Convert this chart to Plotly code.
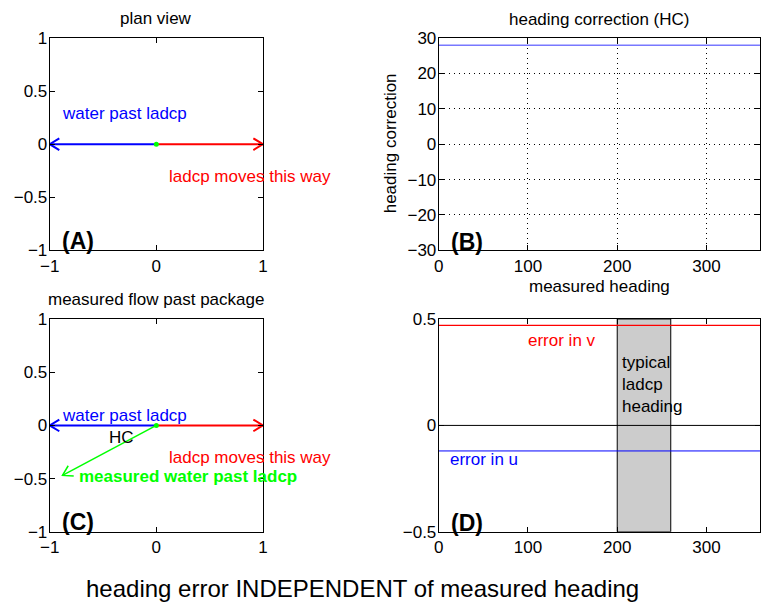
import math
import plotly.graph_objects as go

# plan-view vectors (east, north), unit speed
water_past = (-1.0, 0.0)
ladcp_motion = (1.0, 0.0)
measured_water = (-0.88, -0.47)

# heading correction against measured heading
heading = [0, 360]
heading_correction = [28, 28]

# velocity errors caused by the heading offset
error_u = [-0.12, -0.12]
error_v = [0.47, 0.47]
zero_line = [0, 0]
typical_heading = [200, 260]

FONT = "Liberation Sans, Arial, Helvetica, sans-serif"
BLUE, RED, GREEN = "#0000ff", "#ff0000", "#00ff00"
TXT = 17

# figure size and the page geometry it is laid out for
W, H, PAD = 770, 611, 8
KX, KY = 762 / 778, 603 / 619


def px(x):
    x = x - 1.5
    return min(1.0, max(0.0, (x / KX - PAD) / W))


def py(y):
    y = 37 + (y - 37) * 1.007
    return min(1.0, max(0.0, 1 - (y / KY - PAD) / H))


def quiver(vec, head_len=0.09, head_half=0.055):
    """Shaft from the origin plus an open V head at the tip."""
    dx, dy = vec
    n = math.hypot(dx, dy)
    ux, uy = dx / n, dy / n
    bx, by = dx - head_len * ux, dy - head_len * uy
    w1 = (bx - head_half * uy, by + head_half * ux)
    w2 = (bx + head_half * uy, by - head_half * ux)
    xs = [0, dx, None, w1[0], dx, w2[0]]
    ys = [0, dy, None, w1[1], dy, w2[1]]
    return xs, ys


fig = go.Figure()


def add_arrow(vec, color, xa, ya, width=2):
    xs, ys = quiver(vec)
    fig.add_trace(go.Scatter(x=xs, y=ys, mode="lines", xaxis=xa, yaxis=ya,
                             line=dict(color=color, width=width),
                             hoverinfo="skip"))


def add_origin(xa, ya):
    fig.add_trace(go.Scatter(x=[0], y=[0], mode="markers", xaxis=xa, yaxis=ya,
                             marker=dict(color=GREEN, size=5),
                             hoverinfo="skip"))


# (A) plan view
add_arrow(water_past, BLUE, "x", "y")
add_arrow(ladcp_motion, RED, "x", "y")
add_origin("x", "y")

# (B) heading correction
fig.add_trace(go.Scatter(x=heading, y=heading_correction, mode="lines",
                         xaxis="x2", yaxis="y2",
                         line=dict(color="#7878ff", width=1.5)))

# (C) measured flow past package
add_arrow(water_past, BLUE, "x3", "y3")
add_arrow(ladcp_motion, RED, "x3", "y3")
add_arrow(measured_water, GREEN, "x3", "y3", width=1.5)
add_origin("x3", "y3")

# (D) velocity errors with the typical heading band
h0, h1 = typical_heading
fig.add_trace(go.Scatter(x=[h0, h1, h1, h0, h0], y=[-0.5, -0.5, 0.5, 0.5, -0.5],
                         mode="lines", fill="toself", fillcolor="#cccccc",
                         line=dict(color="black", width=1),
                         xaxis="x4", yaxis="y4", hoverinfo="skip"))
fig.add_trace(go.Scatter(x=heading, y=zero_line, mode="lines", xaxis="x4", yaxis="y4",
                         line=dict(color="black", width=1)))
fig.add_trace(go.Scatter(x=heading, y=error_v, mode="lines", xaxis="x4", yaxis="y4",
                         line=dict(color=RED, width=1.2)))
fig.add_trace(go.Scatter(x=heading, y=error_u, mode="lines", xaxis="x4", yaxis="y4",
                         line=dict(color=BLUE, width=1)))

left_dom = [px(49), px(262)]
right_dom = [px(437.6), px(758.5)]
top_dom = [py(249), py(37)]
bot_dom = [py(530), py(317.5)]


def axis(dom, rng, anchor, tickvals, standoff, **kw):
    d = dict(domain=dom, range=rng, anchor=anchor, tickvals=tickvals,
             showline=True, linecolor="black", linewidth=1, mirror="ticks",
             ticks="inside", ticklen=5, tickcolor="black", tickwidth=1,
             zeroline=False, showgrid=False, fixedrange=True,
             ticklabelstandoff=standoff,
             tickfont=dict(family=FONT, size=TXT, color="black"))
    d.update(kw)
    return d


grid = dict(showgrid=True, gridcolor="black", gridwidth=1, griddash="1px,4px")
unit_ticks = [-1, -0.5, 0, 0.5, 1]
head_ticks = [0, 100, 200, 300]

fig.update_layout(
    width=W, height=H, autosize=False, margin=dict(l=0, r=0, t=0, b=0),
    paper_bgcolor="white", plot_bgcolor="white", showlegend=False,
    xaxis=axis(left_dom, [-1, 1], "y", [-1, 0, 1], 0),
    yaxis=axis(top_dom, [-1, 1], "x", unit_ticks, -2),
    xaxis2=axis(right_dom, [0, 360], "y2", head_ticks, 0, **grid),
    yaxis2=axis(top_dom, [-30, 30], "x2", [-30, -20, -10, 0, 10, 20, 30], -2, **grid),
    xaxis3=axis(left_dom, [-1, 1], "y3", [-1, 0, 1], 0),
    yaxis3=axis(bot_dom, [-1, 1], "x3", unit_ticks, -2),
    xaxis4=axis(right_dom, [0, 360], "y4", head_ticks, 0),
    yaxis4=axis(bot_dom, [-0.5, 0.5], "x4", [-0.5, 0, 0.5], -2),
)


def label(text, x, y, xa, ya, color="black", size=TXT, bold=False):
    fig.add_annotation(text=f"<b>{text}</b>" if bold else text, x=x, y=y,
                       xref=xa, yref=ya, xanchor="left", yanchor="middle",
                       showarrow=False, align="left",
                       font=dict(family=FONT, size=size, color=color))


# panel text
label("water past ladcp", -0.9, 0.29, "x", "y", BLUE)
label("ladcp moves this way", 0.1, -0.3, "x", "y", RED)
label("(A)", -0.9, -0.91, "x", "y", size=23, bold=True)

label("(B)", 12, -27.5, "x2", "y2", size=23, bold=True)

label("water past ladcp", -0.9, 0.09, "x3", "y3", BLUE)
label("HC", -0.46, -0.11, "x3", "y3")
label("ladcp moves this way", 0.1, -0.3, "x3", "y3", RED)
label("measured water past ladcp", -0.74, -0.48, "x3", "y3", GREEN, bold=True)
label("(C)", -0.9, -0.905, "x3", "y3", size=23, bold=True)

label("error in v", 98, 0.40, "x4", "y4", RED)
label("error in u", 10, -0.16, "x4", "y4", BLUE)
label("typical<br>ladcp<br>heading", 203, 0.19, "x4", "y4")
label("(D)", 12, -0.46, "x4", "y4", size=23, bold=True)

# panel titles, axis titles of (B) and the overall caption
for text, cx, cy, size, angle in [
        ("plan view", 155.5, 17, TXT, 0),
        ("heading correction (HC)", 598, 18, TXT, 0),
        ("measured flow past package", 155.5, 298, TXT, 0),
        ("measured heading", 598, 285, TXT, 0),
        ("heading correction", 389, 142, TXT, -90),
        ("heading error INDEPENDENT of measured heading", 361, 587, 24, 0)]:
    fig.add_annotation(text=text, x=px(cx), y=py(cy), xref="paper", yref="paper",
                       xanchor="center", yanchor="middle", showarrow=False,
                       textangle=angle,
                       font=dict(family=FONT, size=size, color="black"))

fig.write_html("out.html")
